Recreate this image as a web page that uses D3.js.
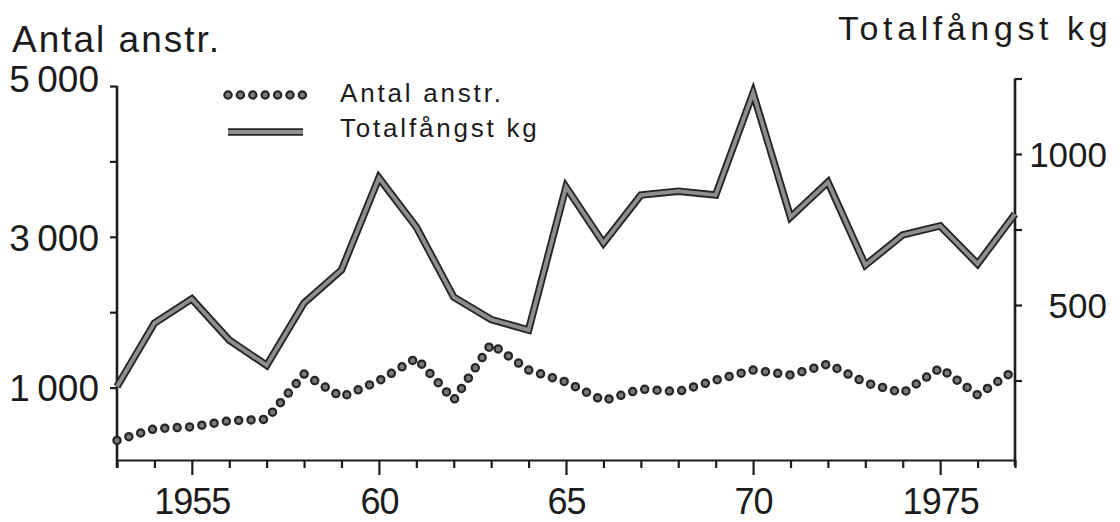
<!DOCTYPE html>
<html>
<head>
<meta charset="utf-8">
<script src="https://cdn.jsdelivr.net/npm/d3@7"></script>
<style>
  html, body { margin: 0; padding: 0; background: #fff; }
  svg { display: block; }
  text { font-family: "Liberation Sans", Arial, sans-serif; fill: #1c1c1c; }
</style>
</head>
<body>
<svg id="chart" width="1120" height="522"></svg>
<script>
// Yearly series, 1953–1977
const years = d3.range(1953, 1978);
const staff = [300, 455, 480, 560, 580, 1180, 875, 1090, 1390, 835, 1578, 1233, 1074, 826, 981, 946,
               1100, 1233, 1167, 1313, 1065, 928, 1260, 902, 1233];            // Antal anstr.
const catchKg = [230, 440, 520, 384, 300, 507, 616, 921, 758, 526, 452, 417, 891, 705, 864, 877,
                 864, 1202, 791, 907, 632, 732, 762, 636, 801];                  // Totalfångst kg

// Axis ticks and labels
const leftTicks = [1000, 2000, 3000, 4000, 5000];
const leftTickLabels = ["1\u2009000", "", "3\u2009000", "", "5\u2009000"];
const rightTicks = [250, 500, 750, 1000, 1250];
const rightTickLabels = ["", "500", "", "1000", ""];
const yearLabelValues = [1955, 1960, 1965, 1970, 1975];
const yearLabels = ["1955", "60", "65", "70", "1975"];

const titleLeft = "Antal anstr.";
const titleRight = "Totalfångst kg";
const legendLabels = ["Antal anstr.", "Totalfångst kg"];

const svg = d3.select("#chart");
const ink = "#1c1c1c";
const grey = "#8e8e8e";

const x = d3.scaleLinear().domain([1953, 1977]).range([117, 1015]);
const yL = d3.scaleLinear().domain([0, 5000]).range([463, 86]);
const yR = d3.scaleLinear().domain([0, 1250]).range([456, 78.5]);
const baseY = 460;

// Bottom axis: one tick per year, longer ticks every five years
const xAxis = svg.append("g")
  .attr("transform", `translate(0,${baseY})`)
  .call(d3.axisBottom(x)
    .tickValues(years)
    .tickSize(8)
    .tickSizeOuter(0)
    .tickPadding(20)
    .tickFormat(d => {
      const i = yearLabelValues.indexOf(d);
      return i >= 0 ? yearLabels[i] : "";
    }));
xAxis.select(".domain").attr("stroke", ink).attr("stroke-width", 2.2);
xAxis.selectAll(".tick line")
  .attr("stroke", ink).attr("stroke-width", 2.2)
  .attr("y2", d => yearLabelValues.includes(d) ? 15 : 8);
xAxis.selectAll(".tick text")
  .attr("font-size", 36).attr("letter-spacing", -1)
  .style("font-family", '"Liberation Sans", Arial, sans-serif')
  .attr("fill", ink);

// Left axis (Antal anstr.)
const lAxis = svg.append("g")
  .attr("transform", `translate(${x(1953)},0)`)
  .call(d3.axisLeft(yL)
    .tickValues(leftTicks)
    .tickSize(7)
    .tickSizeOuter(0)
    .tickPadding(11)
    .tickFormat((d, i) => leftTickLabels[i]));
lAxis.select(".domain").attr("stroke", ink).attr("stroke-width", 2.6)
  .attr("d", `M0,${yL(5000)}V${baseY + 8}`);
lAxis.selectAll(".tick line").attr("stroke", ink).attr("stroke-width", 2.2);
lAxis.selectAll(".tick text")
  .attr("font-size", 37)
  .style("font-family", '"Liberation Sans", Arial, sans-serif')
  .attr("fill", ink)
  .attr("dy", d => d === 5000 ? "0.15em" : "0.36em");

// Right axis (Totalfångst kg)
const rAxis = svg.append("g")
  .attr("transform", `translate(${x(1977)},0)`)
  .call(d3.axisRight(yR)
    .tickValues(rightTicks)
    .tickSize(7)
    .tickSizeOuter(0)
    .tickFormat((d, i) => rightTickLabels[i]));
rAxis.select(".domain").attr("stroke", ink).attr("stroke-width", 2.6)
  .attr("d", `M0,${yR(1250)}V${baseY + 6}`);
rAxis.selectAll(".tick line").attr("stroke", ink).attr("stroke-width", 2.2);
rAxis.selectAll(".tick text")
  .attr("font-size", 35)
  .style("font-family", '"Liberation Sans", Arial, sans-serif')
  .attr("fill", ink)
  .attr("text-anchor", "end")
  .attr("x", 92)
  .attr("dy", "0.36em");

// Axis titles
svg.append("text").attr("x", 12).attr("y", 52)
  .attr("font-size", 37).attr("letter-spacing", 2).text(titleLeft);
svg.append("text").attr("x", 838).attr("y", 40)
  .attr("font-size", 34).attr("letter-spacing", 4.6).text(titleRight);

// Line styles: a dotted trace of beads and a hollow grey band
function drawDots(g, path) {
  g.append("path").attr("d", path).attr("fill", "none")
    .attr("stroke", "#262626").attr("stroke-width", 9.5)
    .attr("stroke-linecap", "round").attr("stroke-dasharray", "0 12.4");
  g.append("path").attr("d", path).attr("fill", "none")
    .attr("stroke", "#7a7a7a").attr("stroke-width", 5)
    .attr("stroke-linecap", "round").attr("stroke-dasharray", "0 12.4");
}
function drawBand(g, path) {
  g.append("path").attr("d", path).attr("fill", "none")
    .attr("stroke", "#252525").attr("stroke-width", 7.5)
    .attr("stroke-linejoin", "miter").attr("stroke-miterlimit", 12);
  g.append("path").attr("d", path).attr("fill", "none")
    .attr("stroke", grey).attr("stroke-width", 3.8)
    .attr("stroke-linejoin", "miter").attr("stroke-miterlimit", 12);
}

const staffLine = d3.line().x((d, i) => x(years[i])).y(d => yL(d));
const catchLine = d3.line().x((d, i) => x(years[i])).y(d => yR(d));

drawBand(svg.append("g"), catchLine(catchKg));
drawDots(svg.append("g"), staffLine(staff));

// Legend
const legendLine = d3.line();
drawDots(svg.append("g"), legendLine([[228, 95], [303, 95]]));
drawBand(svg.append("g"), legendLine([[228, 132], [303, 132]]));
svg.append("text").attr("x", 340).attr("y", 102)
  .attr("font-size", 26).attr("letter-spacing", 2.8).text(legendLabels[0]);
svg.append("text").attr("x", 340).attr("y", 137)
  .attr("font-size", 26).attr("letter-spacing", 2.8).text(legendLabels[1]);
</script>
</body>
</html>
